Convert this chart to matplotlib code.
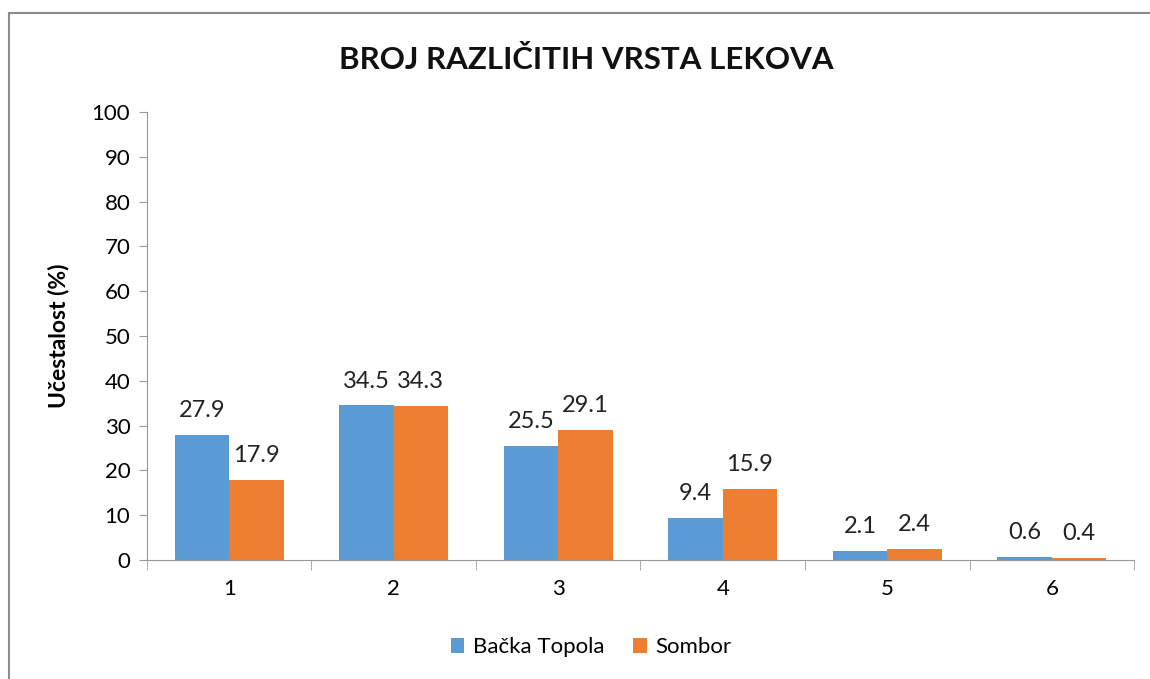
import numpy as np
import matplotlib
matplotlib.use("Agg")
import matplotlib.pyplot as plt
from matplotlib.lines import Line2D

# ---------------------- data ----------------------
categories = ["1", "2", "3", "4", "5", "6"]
backa_topola = [27.9, 34.5, 25.5, 9.4, 2.1, 0.6]
sombor = [17.9, 34.3, 29.1, 15.9, 2.4, 0.4]
series_names = ["Bačka Topola", "Sombor"]

plt.rcParams['font.family'] = ['Lato', 'DejaVu Sans']

fig = plt.figure(figsize=(11.5, 6.79), dpi=100)
ax = fig.add_axes([0.1278, 0.1753, 0.8583, 0.6597])

x = np.arange(len(categories))
w = 0.33
c_blue = '#5B9BD5'
c_orange = '#ED7D31'
b1 = ax.bar(x - w / 2, backa_topola, w, color=c_blue, label=series_names[0])
b2 = ax.bar(x + w / 2, sombor, w, color=c_orange, label=series_names[1])

# data labels
for bars, vals in ((b1, backa_topola), (b2, sombor)):
    for r, v in zip(bars, vals):
        ax.annotate(f'{v}', (r.get_x() + r.get_width() / 2, v),
                    xytext=(0, 10), textcoords='offset points',
                    ha='center', va='bottom', fontsize=17, color='#222222')

ax.set_xlim(-0.5, len(categories) - 0.5)
ax.set_ylim(0, 100)
ax.set_yticks(np.arange(0, 101, 10))
ax.set_xticks(x)
ax.set_xticklabels(categories)
ax.set_xticks(np.arange(-0.5, len(categories), 1), minor=True)
ax.tick_params(axis='x', which='major', length=0, pad=14, labelsize=16)
ax.tick_params(axis='x', which='minor', length=7, color='#999999')
ax.tick_params(axis='y', length=6, color='#999999', labelsize=16, pad=6)

for s in ('top', 'right'):
    ax.spines[s].set_visible(False)
ax.spines['left'].set_color('#999999')
ax.spines['bottom'].set_color('#999999')

ax.set_ylabel('Učestalost (%)', fontsize=16.5, fontweight='bold', labelpad=16)
fig.text(0.51, 0.912, 'BROJ RAZLIČITIH VRSTA LEKOVA', ha='center', va='center',
         fontsize=22.5, fontweight='bold', color='#111111')

ax.legend(loc='center', bbox_to_anchor=(0.45, -0.195), ncol=2, frameon=False,
          fontsize=16, handlelength=0.6, handleheight=0.6, columnspacing=1.3,
          handletextpad=0.4)

# chart-area border (top and left edges visible)
fig.add_artist(Line2D([0.0078, 1.0], [0.981, 0.981], transform=fig.transFigure,
                      color='#8c8c8c', lw=1.5))
fig.add_artist(Line2D([0.0078, 0.0078], [0.0, 0.981], transform=fig.transFigure,
                      color='#8c8c8c', lw=1.5))

fig.savefig('out.png', dpi=100)
